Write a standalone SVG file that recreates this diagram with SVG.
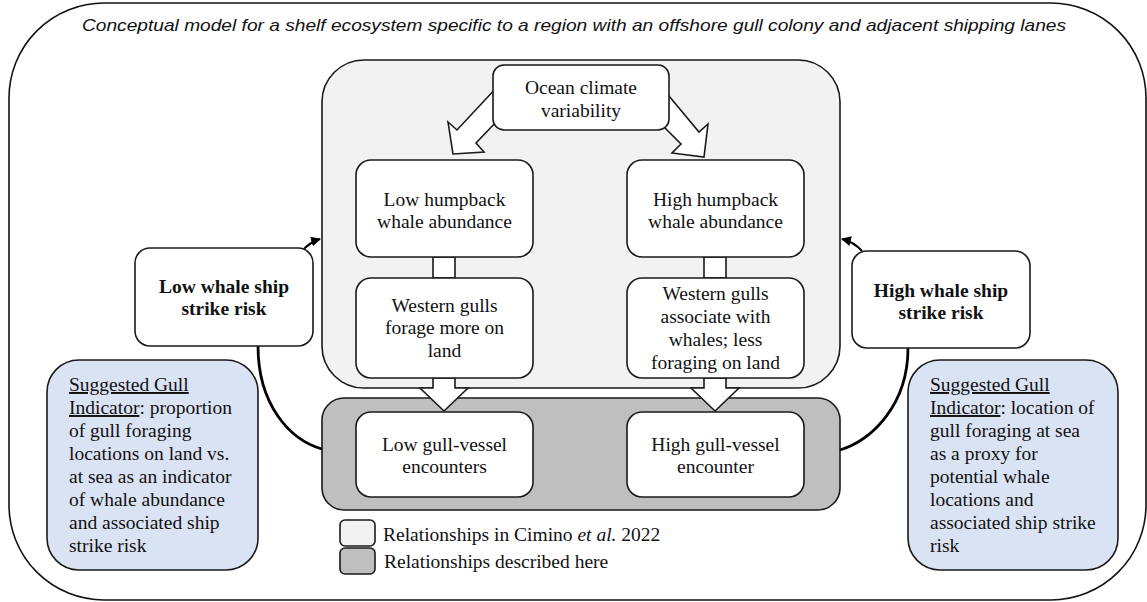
<svg xmlns="http://www.w3.org/2000/svg" width="1147" height="602" viewBox="0 0 1147 602">
<defs>
<style>
.frame{fill:#fff;stroke:#111;stroke-width:1.6}
.box{fill:#fff;stroke:#1a1a1a;stroke-width:1.6}
.light{fill:#f2f2f2;stroke:#1a1a1a;stroke-width:1.6}
.dark{fill:#bfbfbf;stroke:#1a1a1a;stroke-width:1.6}
.blue{fill:#dae3f3;stroke:#1a1a1a;stroke-width:1.6}
.hollow{fill:#fff;stroke:#1a1a1a;stroke-width:1.6;stroke-linejoin:miter}
.curve{fill:none;stroke:#000;stroke-width:2.8}
.small{fill:none;stroke:#000;stroke-width:2.2}
.t{font-family:"Liberation Serif","Times New Roman",serif;font-size:19.5px;fill:#111}
.c{text-anchor:middle}
.b{font-weight:bold}
.title{font-family:"Liberation Sans",Arial,sans-serif;font-style:italic;font-size:17px;fill:#111}
</style>
<marker id="ah" viewBox="0 0 10 10" refX="9" refY="5" markerWidth="4.5" markerHeight="4.5" orient="auto" markerUnits="strokeWidth">
<path d="M0,0 L10,5 L0,10 z" fill="#000"/>
</marker>
</defs>

<g id="frame">
<rect class="frame" x="9" y="3" width="1137" height="597" rx="95" ry="95"/>
<text class="title c" x="574" y="31" textLength="984" lengthAdjust="spacingAndGlyphs">Conceptual model for a shelf ecosystem specific to a region with an offshore gull colony and adjacent shipping lanes</text>
</g>

<g id="region-cimino">
<rect class="light" x="322" y="60" width="518" height="328" rx="42" ry="42"/>
</g>
<g id="region-here">
<rect class="dark" x="322" y="398" width="518" height="112" rx="22" ry="22"/>
</g>

<g id="connectors">
<polygon class="hollow" points="498,86 457,130 448,122 453,154 484,152 476,143 498,120"/>
<polygon class="hollow" points="664,90 699,132 708,124 704,157 672,153 681,144 660,123"/>
<rect class="hollow" x="433" y="257" width="22" height="21"/>
<rect class="hollow" x="704" y="257" width="22" height="21"/>
<polygon class="hollow" points="433,378 433,388 420,388 444,411 468,388 455,388 455,378"/>
<polygon class="hollow" points="704,378 704,388 691,388 715,411 739,388 726,388 726,378"/>
<path class="curve" d="M258,346 C258,405 290,440 322,449"/>
<path class="curve" d="M908,348 C908,405 872,440 840,450"/>
<path class="small" d="M302,251 Q310,242 320,239" marker-end="url(#ah)"/>
<path class="small" d="M862,251 Q854,242 842,239" marker-end="url(#ah)"/>
</g>

<g id="ocean">
<rect class="box" x="493" y="65" width="176" height="65" rx="11" ry="11"/>
<text class="t c" x="581" y="94">Ocean climate</text>
<text class="t c" x="581" y="117">variability</text>
</g>

<g id="low-humpback">
<rect class="box" x="356" y="160" width="177" height="97" rx="15" ry="15"/>
<text class="t c" x="444.5" y="206">Low humpback</text>
<text class="t c" x="444.5" y="228">whale abundance</text>
</g>

<g id="high-humpback">
<rect class="box" x="627" y="160" width="177" height="97" rx="15" ry="15"/>
<text class="t c" x="715.5" y="206">High humpback</text>
<text class="t c" x="715.5" y="228">whale abundance</text>
</g>

<g id="low-gulls">
<rect class="box" x="356" y="278" width="177" height="100" rx="15" ry="15"/>
<text class="t c" x="444.5" y="312">Western gulls</text>
<text class="t c" x="444.5" y="334">forage more on</text>
<text class="t c" x="444.5" y="357">land</text>
</g>

<g id="high-gulls">
<rect class="box" x="627" y="278" width="177" height="100" rx="15" ry="15"/>
<text class="t c" x="715.5" y="300">Western gulls</text>
<text class="t c" x="715.5" y="323">associate with</text>
<text class="t c" x="715.5" y="346">whales; less</text>
<text class="t c" x="715.5" y="369">foraging on land</text>
</g>

<g id="low-encounters">
<rect class="box" x="356" y="412" width="177" height="85" rx="15" ry="15"/>
<text class="t c" x="444.5" y="451">Low gull-vessel</text>
<text class="t c" x="444.5" y="473">encounters</text>
</g>

<g id="high-encounters">
<rect class="box" x="627" y="412" width="177" height="85" rx="15" ry="15"/>
<text class="t c" x="715.5" y="451">High gull-vessel</text>
<text class="t c" x="715.5" y="473">encounter</text>
</g>

<g id="low-risk">
<rect class="box" x="135" y="248" width="178" height="98" rx="15" ry="15"/>
<text class="t c b" x="224" y="293">Low whale ship</text>
<text class="t c b" x="224" y="315">strike risk</text>
</g>

<g id="high-risk">
<rect class="box" x="852" y="251" width="178" height="97" rx="15" ry="15"/>
<text class="t c b" x="941" y="297">High whale ship</text>
<text class="t c b" x="941" y="319">strike risk</text>
</g>

<g id="left-indicator">
<rect class="blue" x="47" y="360" width="211" height="210" rx="32" ry="32"/>
<text class="t" x="69" y="391"><tspan text-decoration="underline">Suggested Gull</tspan></text>
<text class="t" x="69" y="414"><tspan text-decoration="underline">Indicator</tspan>: proportion</text>
<text class="t" x="69" y="437">of gull foraging</text>
<text class="t" x="69" y="460">locations on land vs.</text>
<text class="t" x="69" y="483">at sea as an indicator</text>
<text class="t" x="69" y="506">of whale abundance</text>
<text class="t" x="69" y="529">and associated ship</text>
<text class="t" x="69" y="552">strike risk</text>
</g>

<g id="right-indicator">
<rect class="blue" x="908" y="360" width="210" height="210" rx="32" ry="32"/>
<text class="t" x="930" y="391"><tspan text-decoration="underline">Suggested Gull</tspan></text>
<text class="t" x="930" y="414"><tspan text-decoration="underline">Indicator</tspan>: location of</text>
<text class="t" x="930" y="437">gull foraging at sea</text>
<text class="t" x="930" y="460">as a proxy for</text>
<text class="t" x="930" y="483">potential whale</text>
<text class="t" x="930" y="506">locations and</text>
<text class="t" x="930" y="529">associated ship strike</text>
<text class="t" x="930" y="552">risk</text>
</g>

<g id="legend">
<rect class="light" x="340" y="520" width="35" height="26" rx="5" ry="5"/>
<rect class="dark" x="340" y="548" width="35" height="26" rx="5" ry="5"/>
<text class="t" x="383" y="541">Relationships in Cimino <tspan font-style="italic">et al.</tspan> 2022</text>
<text class="t" x="384" y="568">Relationships described here</text>
</g>
</svg>
